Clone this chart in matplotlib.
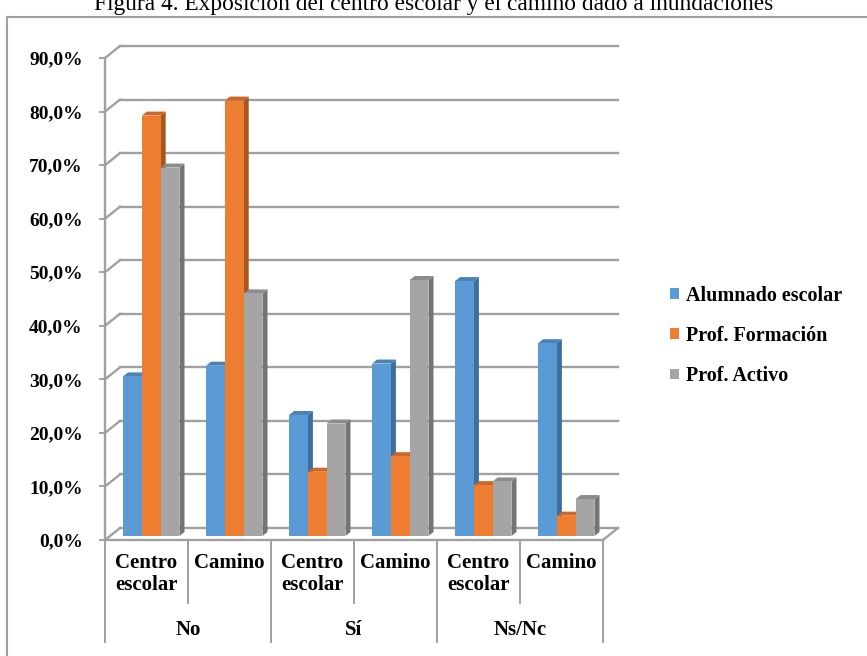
import matplotlib
matplotlib.use("Agg")
import matplotlib.pyplot as plt
from matplotlib.transforms import ScaledTranslation
from matplotlib.patches import Polygon, Patch
from matplotlib.lines import Line2D
import numpy as np

# ---------------- data ----------------
groups = ["No", "Sí", "Ns/Nc"]
subcats = ["Centro\nescolar", "Camino", "Centro\nescolar", "Camino", "Centro\nescolar", "Camino"]
series_names = ["Alumnado escolar", "Prof. Formación", "Prof. Activo"]
alumnado = [29.8, 31.8, 22.6, 32.2, 47.6, 36.0]
prof_formacion = [78.5, 81.3, 12.0, 14.9, 9.5, 3.8]
prof_activo = [68.8, 45.3, 21.0, 47.8, 10.2, 6.9]
yticks = [0, 10, 20, 30, 40, 50, 60, 70, 80, 90]
title = "Figura 4. Exposición del centro escolar y el camino dado a inundaciones"

front_colors = ["#5B9BD5", "#ED7D31", "#A5A5A5"]
side_colors = ["#3E6E9C", "#A8561F", "#747474"]
top_colors = ["#4A82B8", "#C9682A", "#8C8C8C"]

W, H = 867, 656
fig = plt.figure(figsize=(W / 100, H / 100), dpi=100)
FONT = "Liberation Serif"

# axes geometry (front plane)
x0, x1 = 105, 603
y0, y1 = 540, 58
ax = fig.add_axes([x0 / W, (H - y0) / H, (x1 - x0) / W, (y0 - y1) / H])
ax.set_xlim(0, 6)
ax.set_ylim(0, 90)
ax.patch.set_alpha(0)

grid_col = "#A0A0A0"
back = ax.transData + ScaledTranslation(15 / 100, 12 / 100, fig.dpi_scale_trans)

# back wall gridlines + side diagonals
for v in yticks:
    ax.plot([0, 6], [v, v], color=grid_col, lw=1.7, transform=back, clip_on=False, zorder=1)
    p0 = ax.transData.transform((0, v))
    p1 = back.transform((0, v))
    ax.add_line(Line2D([p0[0], p1[0]], [p0[1], p1[1]], color=grid_col, lw=1.7,
                       transform=None, clip_on=False, zorder=1))
# floor front edge and right diagonal
ax.plot([0, 6], [0, 0], color=grid_col, lw=1.7, clip_on=False, zorder=1)
p0 = ax.transData.transform((6, 0))
p1 = back.transform((6, 0))
ax.add_line(Line2D([p0[0], p1[0]], [p0[1], p1[1]], color=grid_col, lw=1.7,
                   transform=None, clip_on=False, zorder=1))

# bars
bar_t = ax.transData + ScaledTranslation(0, 4 / 100, fig.dpi_scale_trans)
bw = 0.2265
start = 0.218
ddx, ddy = 5, 4  # depth in pixels
data = [alumnado, prof_formacion, prof_activo]
z = 3
for i in range(6):
    for s in range(3):
        v = data[s][i]
        xl = i + start + s * bw
        xr = xl + bw
        bl = bar_t.transform((xl, 0))
        br = bar_t.transform((xr, 0))
        tl = bar_t.transform((xl, v))
        tr = bar_t.transform((xr, v))
        side = Polygon([br, tr, tr + [ddx, ddy], br + [ddx, ddy]], closed=True,
                       facecolor=side_colors[s], edgecolor="none", transform=None, zorder=z)
        top = Polygon([tl, tr, tr + [ddx, ddy], tl + [ddx, ddy]], closed=True,
                      facecolor=top_colors[s], edgecolor="none", transform=None, zorder=z)
        front = Polygon([bl, br, tr, tl], closed=True, facecolor=front_colors[s],
                        edgecolor="none", transform=None, zorder=z + 1)
        ax.add_patch(side)
        ax.add_patch(top)
        ax.add_patch(front)
        z += 2

# y axis
for sp in ["top", "right", "bottom"]:
    ax.spines[sp].set_visible(False)
ax.spines["left"].set_color(grid_col)
ax.spines["left"].set_linewidth(1.7)
ax.set_yticks(yticks)
ax.set_yticklabels([f"{t:.1f}".replace(".", ",") + "%" for t in yticks],
                   fontfamily=FONT, fontweight="bold", fontsize=14)
ax.tick_params(axis="y", length=4, width=1.4, color=grid_col, pad=12)
ax.set_xticks([])

# category table below axis
xt = ax.get_xaxis_transform()
def fy(py):
    return (y0 - py) / (y0 - y1)

for k in range(7):
    bottom = 642 if k % 2 == 0 else 603
    ax.plot([k, k], [fy(540), fy(bottom)], color=grid_col, lw=1.4, transform=xt, clip_on=False)

for i, lab in enumerate(subcats):
    ax.text(i + 0.5, fy(553), lab, transform=xt, ha="center", va="top",
            fontfamily=FONT, fontweight="bold", fontsize=15, linespacing=1.15)
for g, lab in enumerate(groups):
    ax.text(2 * g + 1, fy(630), lab, transform=xt, ha="center", va="center",
            fontfamily=FONT, fontweight="bold", fontsize=15)

# legend
handles = [Patch(facecolor=c, edgecolor="none") for c in front_colors]
fig.legend(handles, series_names, loc="center left",
           bbox_to_anchor=(652 / W, 1 - 336 / H), frameon=False,
           prop={"family": FONT, "weight": "bold", "size": 14.5},
           handlelength=0.45, handleheight=0.45, handletextpad=0.35, labelspacing=1.0)

# outer frame (left and top) and title
fig.add_artist(Line2D([7 / W, 7 / W], [0, 1 - 17 / H], color="#A0A0A0", lw=1.5))
fig.add_artist(Line2D([7 / W, 1], [1 - 17 / H, 1 - 17 / H], color="#A0A0A0", lw=1.5))
fig.text(0.5, 1 - 10 / H, title, ha="center", va="baseline",
         fontfamily=FONT, fontsize=16.8)

fig.savefig("out.png", dpi=100)
